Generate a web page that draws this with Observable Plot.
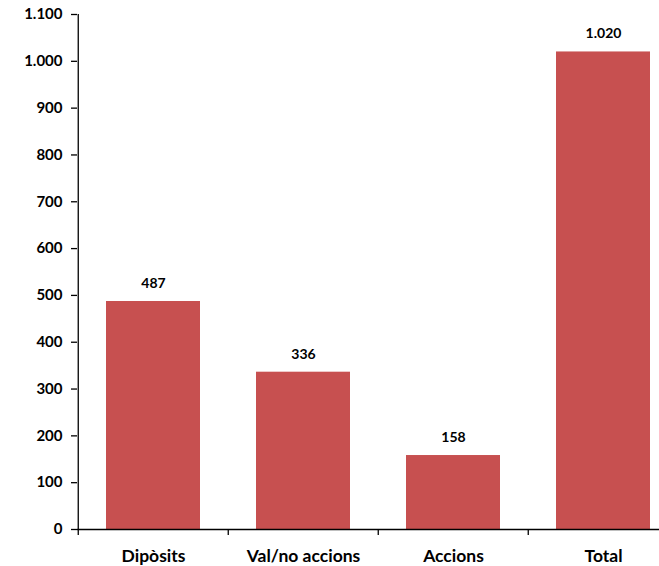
<!DOCTYPE html>
<html>
<head>
<meta charset="utf-8">
<script src="https://cdn.jsdelivr.net/npm/d3@7"></script>
<script src="https://cdn.jsdelivr.net/npm/@observablehq/plot@0.6"></script>
<style>
  body { margin: 0; background: #fff; }
  svg { font-family: Lato, "Open Sans", sans-serif; }
  svg text { font-weight: 700; }
</style>
</head>
<body>
<div id="chart"></div>
<script>
const categories = ["Dipòsits", "Val/no accions", "Accions", "Total"];
const values = [487, 336, 158, 1020];
const yTicks = [0, 100, 200, 300, 400, 500, 600, 700, 800, 900, 1000, 1100];

const data = categories.map((c, i) => ({ cat: c, value: values[i] }));
const locale = d3.formatLocale({ decimal: ",", thousands: ".", grouping: [3], currency: ["", "€"] });
const fmt = locale.format(",d");

const W = 659, H = 566;
const mL = 77, mR = -20, mT = 14, mB = 37;
const step = (W - mL - mR) / categories.length;

const chart = Plot.plot({
  width: W,
  height: H,
  marginLeft: mL,
  marginRight: mR,
  marginTop: mT,
  marginBottom: mB,
  style: { fontFamily: "Lato, 'Open Sans', sans-serif", background: "#fff", overflow: "hidden" },
  x: { domain: categories, paddingInner: 0.376, paddingOuter: 0.188, align: 0.5 },
  y: { domain: [0, 1100], ticks: yTicks },
  marks: [
    Plot.barY(data, { x: "cat", y: "value", fill: "#c75050" }),
    Plot.ruleY([0], { stroke: "#000", strokeWidth: 1.3 }),
    Plot.ruleX([categories[0]], { x: d => d, y1: 1100, y2: 0, dx: -step / 2, insetBottom: -6, stroke: "#000", strokeWidth: 1.3 }),
    Plot.ruleX(categories.slice(1), { x: d => d, y1: 0, y2: 0, dx: -step / 2, insetBottom: -6, stroke: "#000", strokeWidth: 1.3 }),
    Plot.axisY({ ticks: yTicks, tickFormat: fmt, tickSize: 6, tickPadding: 9, fontSize: 15, fontWeight: "bold", stroke: "#000", strokeWidth: 1.3, strokeOpacity: 1, fill: "#000", label: null }),
    Plot.axisX({ tickSize: 0, tickPadding: 20, fontSize: 17.5, fontWeight: "bold", fill: "#000", label: null }),
    Plot.text(data, { x: "cat", y: "value", text: d => fmt(d.value), dy: -18, fontSize: 14, fontWeight: "bold", fill: "#000" })
  ]
});
document.getElementById("chart").appendChild(chart);
</script>
</body>
</html>
